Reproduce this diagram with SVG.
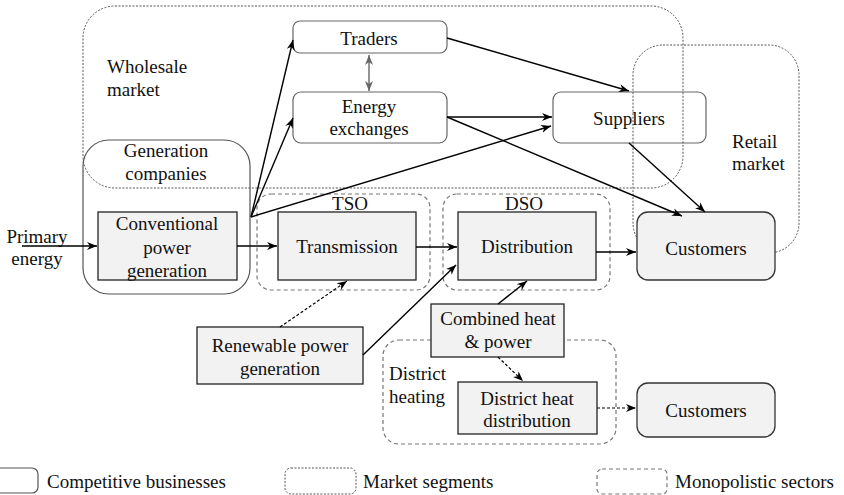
<svg xmlns="http://www.w3.org/2000/svg" width="844" height="495" viewBox="0 0 844 495" font-family="'Liberation Serif', 'Times New Roman', 'DejaVu Serif', serif">
<defs>
<marker id="ah" markerUnits="userSpaceOnUse" markerWidth="11" markerHeight="9" refX="10" refY="4.5" orient="auto"><path d="M0,0.5 L10,4.5 L0,8.5 L3,4.5 Z" fill="#000"/></marker>
<marker id="ahg" markerUnits="userSpaceOnUse" markerWidth="11" markerHeight="9" refX="10" refY="4.5" orient="auto-start-reverse"><path d="M0,0.5 L10,4.5 L0,8.5 L3,4.5 Z" fill="#666"/></marker>
<style>
text{font-family:'Liberation Serif','Times New Roman','DejaVu Serif',serif;font-size:19px;fill:#111}
.c{text-anchor:middle}
.mkt{fill:none;stroke:#555;stroke-width:1;stroke-dasharray:2,1.5}
.mono{fill:none;stroke:#777;stroke-width:1.2;stroke-dasharray:4,3}
.comp{fill:none;stroke:#555;stroke-width:1.2}
.box{fill:#f2f2f2;stroke:#222;stroke-width:1.3}
.cust{fill:#f2f2f2;stroke:#333;stroke-width:1.3}
.wb{fill:#fff;stroke:#666;stroke-width:1.2}
.ln{fill:none;stroke:#000;stroke-width:1.4;marker-end:url(#ah)}
.dl{fill:none;stroke:#000;stroke-width:1.2;stroke-dasharray:3,2;marker-end:url(#ah)}
</style>
</defs>

<g id="suppliers"><rect class="wb" x="553" y="92" width="153" height="51" rx="8"/><text class="c" x="629" y="125">Suppliers</text></g>

<g id="wholesale-market"><rect class="mkt" x="83" y="6" width="600" height="182" rx="32"/><text x="107" y="73">Wholesale</text><text x="107" y="96">market</text></g>
<g id="retail-market"><rect class="mkt" x="633" y="45" width="166" height="208" rx="30"/><text x="732" y="148">Retail</text><text x="732" y="170">market</text></g>
<g id="generation-companies"><rect class="comp" x="83" y="140" width="167" height="154" rx="26"/><text class="c" x="166" y="157">Generation</text><text class="c" x="166" y="180">companies</text></g>
<g id="tso"><rect class="mono" x="257" y="194" width="173" height="96" rx="14"/><text class="c" x="350" y="210">TSO</text></g>
<g id="dso"><rect class="mono" x="443" y="194" width="167" height="96" rx="14"/><text class="c" x="524" y="210">DSO</text></g>
<g id="district-heating"><rect class="mono" x="383" y="340" width="233" height="104" rx="16"/><text x="389" y="380">District</text><text x="389" y="403">heating</text></g>

<g id="traders"><rect class="wb" x="293" y="21" width="154" height="32" rx="7"/><text class="c" x="369" y="45">Traders</text></g>
<g id="energy-exchanges"><rect class="wb" x="293" y="92" width="154" height="51" rx="8"/><text class="c" x="369" y="113">Energy</text><text class="c" x="369" y="135">exchanges</text></g>
<g id="conventional"><rect class="box" x="98" y="212" width="139" height="68"/><text class="c" x="167" y="230">Conventional</text><text class="c" x="167" y="254">power</text><text class="c" x="167" y="277">generation</text></g>
<g id="transmission"><rect class="box" x="278" y="212" width="138" height="68"/><text class="c" x="347" y="253">Transmission</text></g>
<g id="distribution"><rect class="box" x="458" y="212" width="138" height="68"/><text class="c" x="527" y="253">Distribution</text></g>
<g id="customers"><rect class="cust" x="637" y="212" width="138" height="68" rx="11"/><text class="c" x="706" y="255">Customers</text></g>
<g id="renewable"><rect class="box" x="197" y="327" width="166" height="57"/><text class="c" x="280" y="352">Renewable power</text><text class="c" x="280" y="375">generation</text></g>
<g id="chp"><rect class="box" x="431" y="304" width="133" height="53"/><text class="c" x="498" y="325">Combined heat</text><text class="c" x="498" y="348">&amp; power</text></g>
<g id="district-heat-distribution"><rect class="box" x="458" y="382" width="139" height="52"/><text class="c" x="527" y="405">District heat</text><text class="c" x="527" y="427">distribution</text></g>
<g id="customers-heat"><rect class="cust" x="637" y="383" width="138" height="54" rx="11"/><text class="c" x="706" y="417">Customers</text></g>
<g id="primary-energy"><text class="c" x="37" y="243">Primary</text><text class="c" x="37" y="265">energy</text></g>

<g id="connectors">
<line class="ln" x1="22" y1="246" x2="97" y2="246"/>
<line class="ln" x1="237" y1="246" x2="277" y2="246"/>
<line class="ln" x1="416" y1="247" x2="457" y2="247"/>
<line class="ln" x1="596" y1="252" x2="636" y2="252"/>
<line class="ln" x1="251" y1="217" x2="293" y2="40"/>
<line class="ln" x1="251" y1="217" x2="293" y2="118"/>
<line class="ln" x1="251" y1="217" x2="551" y2="126"/>
<line class="ln" x1="447" y1="38" x2="629" y2="91"/>
<line class="ln" x1="447" y1="117" x2="552" y2="117"/>
<line class="ln" x1="447" y1="117" x2="682" y2="216"/>
<line class="ln" x1="629" y1="143" x2="705" y2="212"/>
<line x1="369" y1="55" x2="369" y2="91" stroke="#666" stroke-width="1.4" marker-start="url(#ahg)" marker-end="url(#ahg)"/>
<line class="dl" x1="280" y1="327" x2="347" y2="281"/>
<line class="ln" x1="363" y1="355" x2="456" y2="265"/>
<line class="ln" x1="498" y1="304" x2="527" y2="281"/>
<line class="dl" x1="498" y1="357" x2="523" y2="381"/>
<line class="dl" x1="597" y1="408" x2="636" y2="408"/>
</g>

<g id="legend">
<rect class="comp" x="-6" y="468" width="44" height="25" rx="6"/><text x="47" y="488">Competitive businesses</text>
<rect class="mkt" x="285" y="468" width="71" height="26" rx="6"/><text x="363" y="488">Market segments</text>
<rect class="mono" x="597" y="469" width="70" height="25" rx="5"/><text x="675" y="488">Monopolistic sectors</text>
</g>
</svg>
